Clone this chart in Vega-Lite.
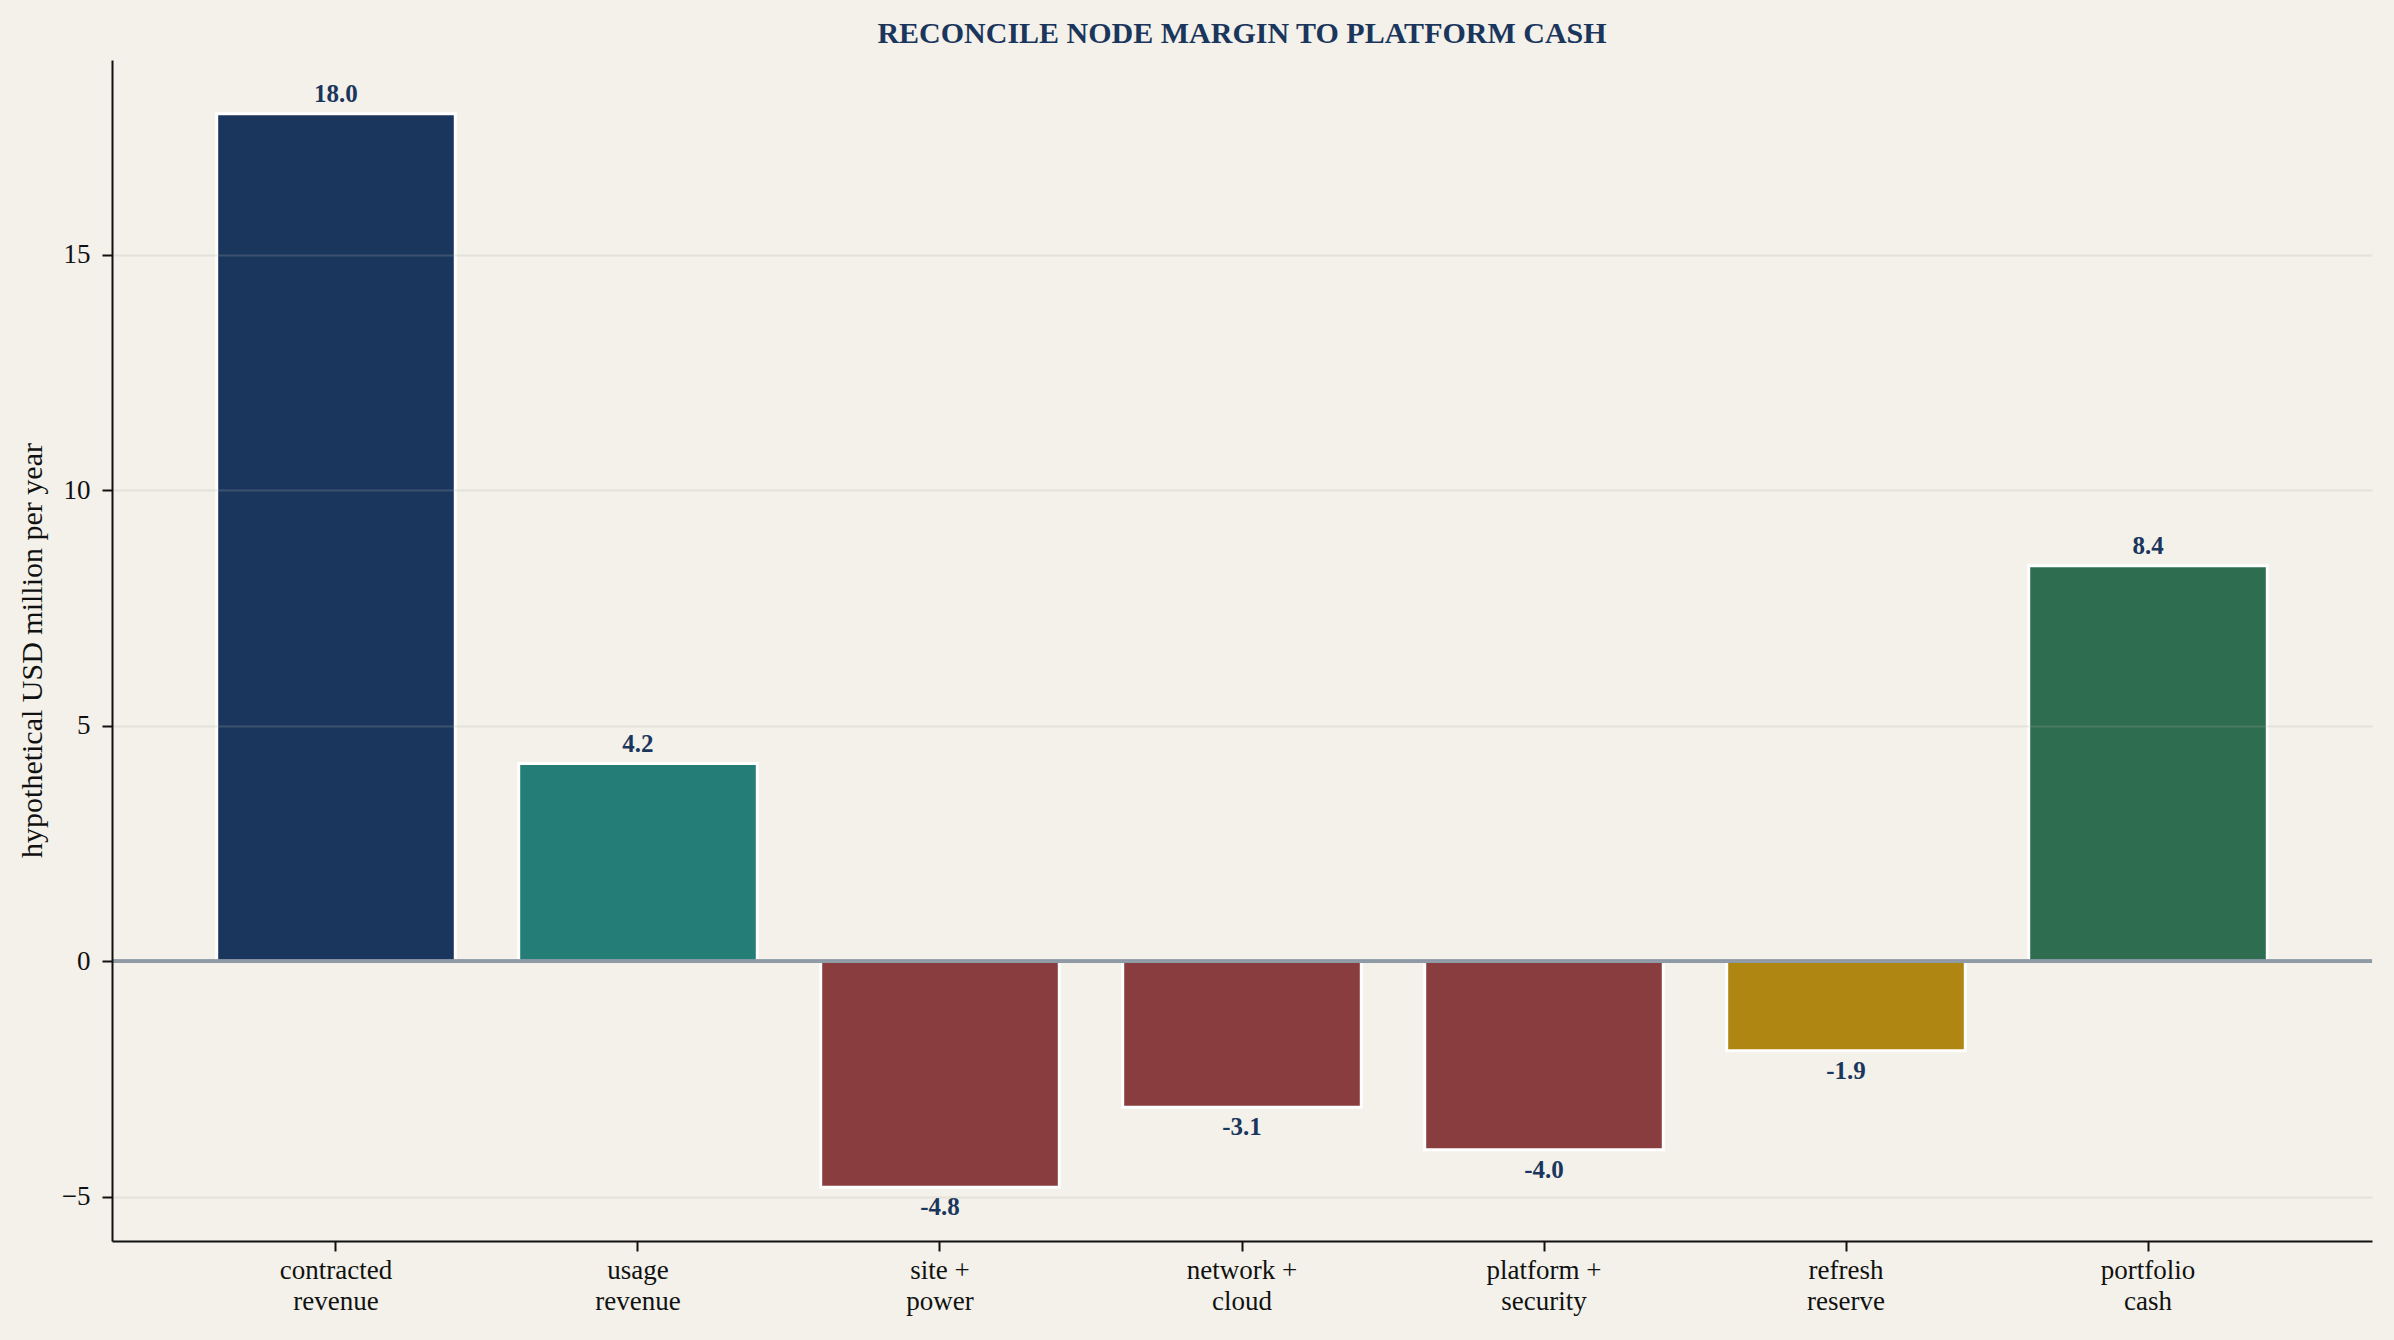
{
  "$schema": "https://vega.github.io/schema/vega-lite/v6.json",
  "description": "Reconcile node margin to platform cash",
  "autosize": "none",
  "width": 2260,
  "height": 1181,
  "padding": {"left": 112, "top": 60, "right": 22, "bottom": 99},
  "background": "#f3f1ea",
  "title": {
    "text": "RECONCILE NODE MARGIN TO PLATFORM CASH",
    "anchor": "middle",
    "frame": "group",
    "font": "Liberation Serif",
    "fontSize": 30,
    "fontWeight": "bold",
    "color": "#1b365d",
    "baseline": "middle",
    "offset": 28,
    "dy": 32
  },
  "config": {
    "view": {"stroke": null},
    "font": "Liberation Serif",
    "axis": {
      "labelFont": "Liberation Serif",
      "labelFontSize": 27,
      "labelColor": "#111111",
      "domainColor": "#111111",
      "domainWidth": 2,
      "tickColor": "#111111",
      "tickWidth": 2,
      "tickSize": 10,
      "titleFont": "Liberation Serif",
      "titleFontWeight": "normal",
      "titleColor": "#111111"
    }
  },
  "data": {
    "values": [
      {"step": "contracted\nrevenue", "value": 18.0, "group": "contracted"},
      {"step": "usage\nrevenue", "value": 4.2, "group": "usage"},
      {"step": "site +\npower", "value": -4.8, "group": "cost"},
      {"step": "network +\ncloud", "value": -3.1, "group": "cost"},
      {"step": "platform +\nsecurity", "value": -4.0, "group": "cost"},
      {"step": "refresh\nreserve", "value": -1.9, "group": "reserve"},
      {"step": "portfolio\ncash", "value": 8.4, "group": "cash"}
    ]
  },
  "transform": [
    {"calculate": "replace(format(datum.value, '.1f'), '\u2212', '-')", "as": "label"}
  ],
  "encoding": {
    "x": {
      "field": "step",
      "type": "nominal",
      "sort": null,
      "scale": {"paddingInner": 0.21, "paddingOuter": 0.3467},
      "axis": {
        "title": null,
        "labelAngle": 0,
        "labelExpr": "split(datum.label, '\\n')",
        "labelLineHeight": 31,
        "labelPadding": 6,
        "labelBaseline": "top"
      }
    },
    "y": {
      "field": "value",
      "type": "quantitative",
      "scale": {"domain": [-5.94, 19.14], "nice": false, "zero": false},
      "axis": {
        "title": "hypothetical USD million per year",
        "titleFontSize": 30,
        "titleAngle": -90,
        "titleX": -80,
        "titleY": 590,
        "titleAlign": "center",
        "titleBaseline": "middle",
        "values": [-5, 0, 5, 10, 15],
        "labelPadding": 12,
        "grid": true,
        "gridColor": "#b3b1a8",
        "gridOpacity": 0.22,
        "gridWidth": 2,
        "zindex": 1
      }
    }
  },
  "layer": [
    {
      "mark": {"type": "bar", "stroke": "white", "strokeWidth": 3},
      "encoding": {
        "color": {
          "field": "group",
          "type": "nominal",
          "scale": {
            "domain": ["contracted", "usage", "cost", "reserve", "cash"],
            "range": ["#1b365d", "#247d77", "#8a3d3e", "#b08613", "#2e6d50"]
          },
          "legend": null
        }
      }
    },
    {
      "mark": {"type": "rule", "color": "#8a97a6", "strokeWidth": 3},
      "encoding": {"y": {"datum": 0}, "x": null}
    },
    {
      "transform": [{"filter": "datum.value >= 0"}],
      "mark": {
        "type": "text",
        "baseline": "middle",
        "dy": -20,
        "font": "Liberation Serif",
        "fontSize": 25,
        "fontWeight": "bold",
        "color": "#1b365d"
      },
      "encoding": {"text": {"field": "label"}}
    },
    {
      "transform": [{"filter": "datum.value < 0"}],
      "mark": {
        "type": "text",
        "baseline": "middle",
        "dy": 20,
        "font": "Liberation Serif",
        "fontSize": 25,
        "fontWeight": "bold",
        "color": "#1b365d"
      },
      "encoding": {"text": {"field": "label"}}
    }
  ]
}
